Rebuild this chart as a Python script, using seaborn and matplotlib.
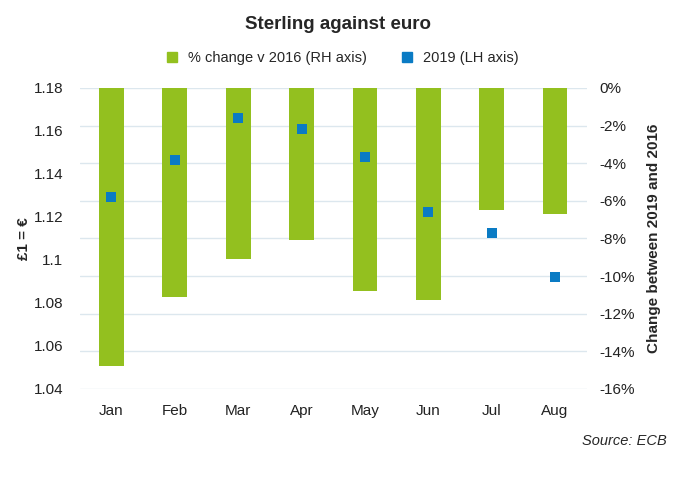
import matplotlib
matplotlib.use("Agg")
import matplotlib.pyplot as plt
import seaborn as sns
from matplotlib.lines import Line2D
from matplotlib.ticker import FixedLocator, FuncFormatter

months = ["Jan", "Feb", "Mar", "Apr", "May", "Jun", "Jul", "Aug"]
rate_2019 = [1.1293, 1.1465, 1.1658, 1.1608, 1.1478, 1.1225, 1.1125, 1.0922]
pct_change = [-14.8, -11.1, -9.1, -8.1, -10.8, -11.3, -6.5, -6.7]

green = "#93C01F"
blue = "#0A7BC4"
grid_col = "#DCE7EE"

sns.set_theme(style="white")
plt.rcParams["font.family"] = ["Liberation Sans", "DejaVu Sans"]

fig = plt.figure(figsize=(6.76, 4.91), dpi=100)
ax = fig.add_axes([0.118, 0.208, 0.75, 0.613])
ax2 = ax.twinx()

# bars on the right-hand axis
sns.barplot(x=months, y=pct_change, ax=ax2, color=green, width=0.39,
            saturation=1, edgecolor="none", zorder=2)
ax2.set_ylim(-16, 0)
ax2.yaxis.set_major_locator(FixedLocator(range(-16, 1, 2)))
ax2.yaxis.set_major_formatter(FuncFormatter(lambda v, p: f"{int(round(v))}%"))
ax2.grid(axis="y", color=grid_col, linewidth=1)
ax2.set_axisbelow(True)
ax2.set_ylabel("Change between 2019 and 2016", fontsize=11, fontweight="bold",
               labelpad=9)

# 2019 points on the left-hand axis
sns.pointplot(x=months, y=rate_2019, ax=ax, color=blue, marker="s",
              linestyle="none", markersize=6.5, markeredgewidth=0)
ax.set_ylim(1.04, 1.18)
ax.yaxis.set_major_locator(FixedLocator([1.04 + 0.02 * i for i in range(8)]))
ax.yaxis.set_major_formatter(FuncFormatter(lambda v, p: f"{round(v, 2):g}"))
ax.set_ylabel("£1 = €", fontsize=11, fontweight="bold", labelpad=2)
ax.set_zorder(ax2.get_zorder() + 1)
ax.patch.set_visible(False)
ax.set_xlim(-0.5, 7.5)
ax2.set_xlim(-0.5, 7.5)

for a in (ax, ax2):
    for s in a.spines.values():
        s.set_visible(False)
    a.tick_params(length=0, labelsize=11, colors="#222222")
ax.tick_params(axis="y", pad=12)
ax2.tick_params(axis="y", pad=9)
ax.tick_params(axis="x", pad=11)

fig.suptitle("Sterling against euro", x=0.5, y=0.968, fontsize=13.5,
             fontweight="bold")
handles = [
    Line2D([], [], marker="s", linestyle="none", color=green, markersize=7),
    Line2D([], [], marker="s", linestyle="none", color=blue, markersize=7),
]
fig.legend(handles, ["% change v 2016 (RH axis)", "2019 (LH axis)"],
           loc="center", bbox_to_anchor=(0.5, 0.882), ncol=2, frameon=False,
           fontsize=10.5, handletextpad=0.05, columnspacing=1.8)
fig.text(0.987, 0.102, "Source: ECB", ha="right", va="center",
         fontsize=10.5, style="italic")

fig.savefig("out.png", dpi=100)
